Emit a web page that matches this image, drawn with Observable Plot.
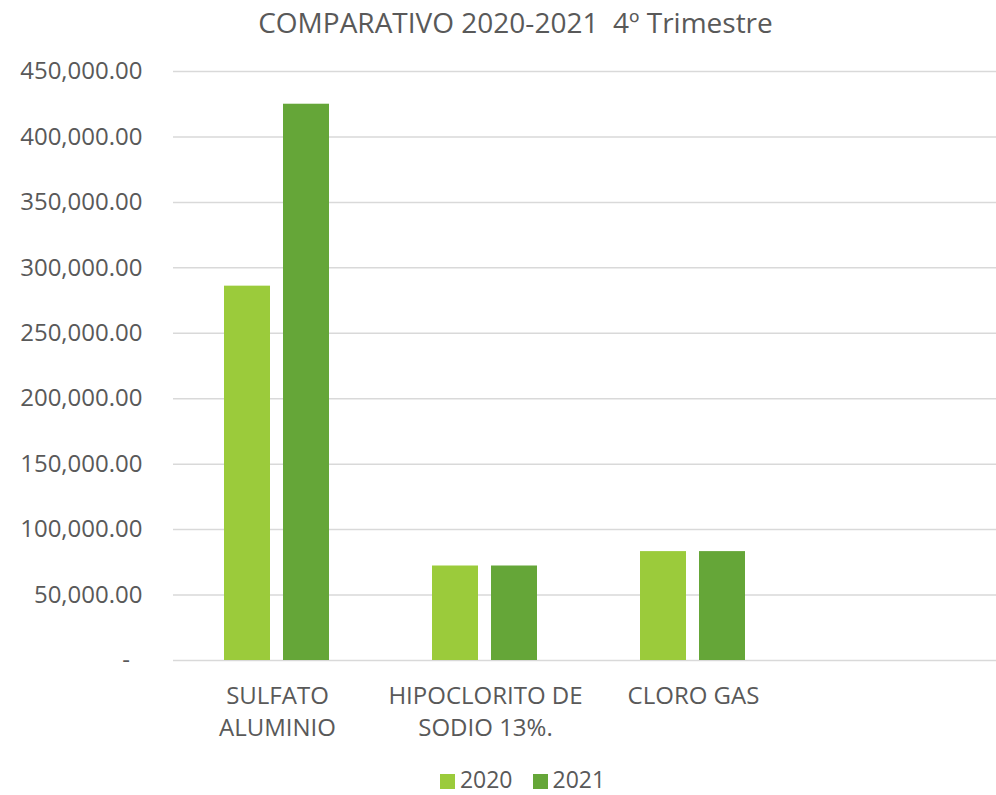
<!DOCTYPE html>
<html>
<head>
<meta charset="utf-8">
<script src="https://cdn.jsdelivr.net/npm/d3@7"></script>
<script src="https://cdn.jsdelivr.net/npm/@observablehq/plot@0.6"></script>
<style>
  html, body { margin: 0; padding: 0; background: #fff; overflow: hidden; }
  #wrap { width: 996px; height: 795px; overflow: hidden; position: relative; font-family: 'Open Sans', sans-serif; color: #595959; }
  #title { height: 50px; line-height: 44px; font-size: 28px; text-align: center; padding-left: 35px; white-space: pre; }
  #chart { height: 700px; width: 996px; overflow: hidden; }
  #chart svg { max-width: none !important; }
  #legend { height: 31px; padding-top: 14px; line-height: 30px; font-size: 23px; text-align: center; padding-left: 49px; white-space: nowrap; }
  #legend .sw { display: inline-block; width: 15px; height: 15px; margin-right: 5px; vertical-align: baseline; position: relative; top: 1px; }
  #legend .item { margin: 0 10px; }
</style>
</head>
<body>
<div id="wrap">
  <div id="title"></div>
  <div id="chart"></div>
  <div id="legend"></div>
</div>
<script>
const titleText = "COMPARATIVO 2020-2021\u00a0\u00a04º Trimestre";
const categories = ["SULFATO ALUMINIO", "HIPOCLORITO DE SODIO 13%.", "CLORO GAS", " "];
const tickLabels = ["SULFATO\nALUMINIO", "HIPOCLORITO DE\nSODIO 13%.", "CLORO GAS", ""];
const years = ["2020", "2021"];
const values2020 = [286000, 72200, 83200];
const values2021 = [425000, 72200, 83200];
const yTicks = [0, 50000, 100000, 150000, 200000, 250000, 300000, 350000, 400000, 450000];
const colors = ["#9BCB3B", "#65A638"];

document.getElementById("title").textContent = titleText;

const data = [];
values2020.forEach((v, i) => data.push({category: categories[i], year: years[0], value: v}));
values2021.forEach((v, i) => data.push({category: categories[i], year: years[1], value: v}));

const gridData = categories.flatMap(c => yTicks.map(t => ({category: c, value: t})));

const fmt = d3.format(",.2f");
const yFormat = d => d === 0 ? "-\u00a0\u00a0" : fmt(d);
const fxFormat = d => tickLabels[categories.indexOf(d)];

const hasAxisMarks = typeof Plot.axisFx === "function";

const marks = [
  Plot.ruleY(gridData, {fx: "category", y: "value", stroke: "#d9d9d9", strokeWidth: 1.5}),
  Plot.barY(data, {fx: "category", x: "year", y: "value", fill: "year"})
];
if (hasAxisMarks) {
  marks.push(Plot.axisFx({anchor: "bottom", tickSize: 0, tickPadding: 21, tickFormat: fxFormat, lineHeight: 1.33, label: null}));
  marks.push(Plot.axisY({ticks: yTicks, tickFormat: yFormat, tickSize: 0, tickPadding: 31, label: null}));
}

const chart = Plot.plot({
  width: 1010,
  height: 700,
  marginTop: 21,
  marginBottom: 90,
  marginLeft: 173,
  marginRight: 5,
  style: {fontFamily: "'Open Sans', sans-serif", fontSize: "24px", color: "#595959", background: "white", overflow: "visible", maxWidth: "none"},
  fx: hasAxisMarks
    ? {domain: categories, padding: 0, axis: null, label: null}
    : {domain: categories, padding: 0, axis: "bottom", tickSize: 0, tickPadding: 21, tickFormat: fxFormat, label: null},
  x: {domain: years, paddingInner: 13 / 60, paddingOuter: 0.8417, axis: null},
  y: hasAxisMarks
    ? {domain: [0, 450000], axis: null}
    : {domain: [0, 450000], ticks: yTicks, tickFormat: yFormat, tickSize: 0, tickPadding: 31, label: null},
  color: {domain: years, range: colors},
  marks
});
document.getElementById("chart").appendChild(chart);

const legend = document.getElementById("legend");
years.forEach((y, i) => {
  const item = document.createElement("span");
  item.className = "item";
  const sw = document.createElement("span");
  sw.className = "sw";
  sw.style.background = colors[i];
  item.appendChild(sw);
  item.appendChild(document.createTextNode(y));
  legend.appendChild(item);
});
</script>
</body>
</html>
